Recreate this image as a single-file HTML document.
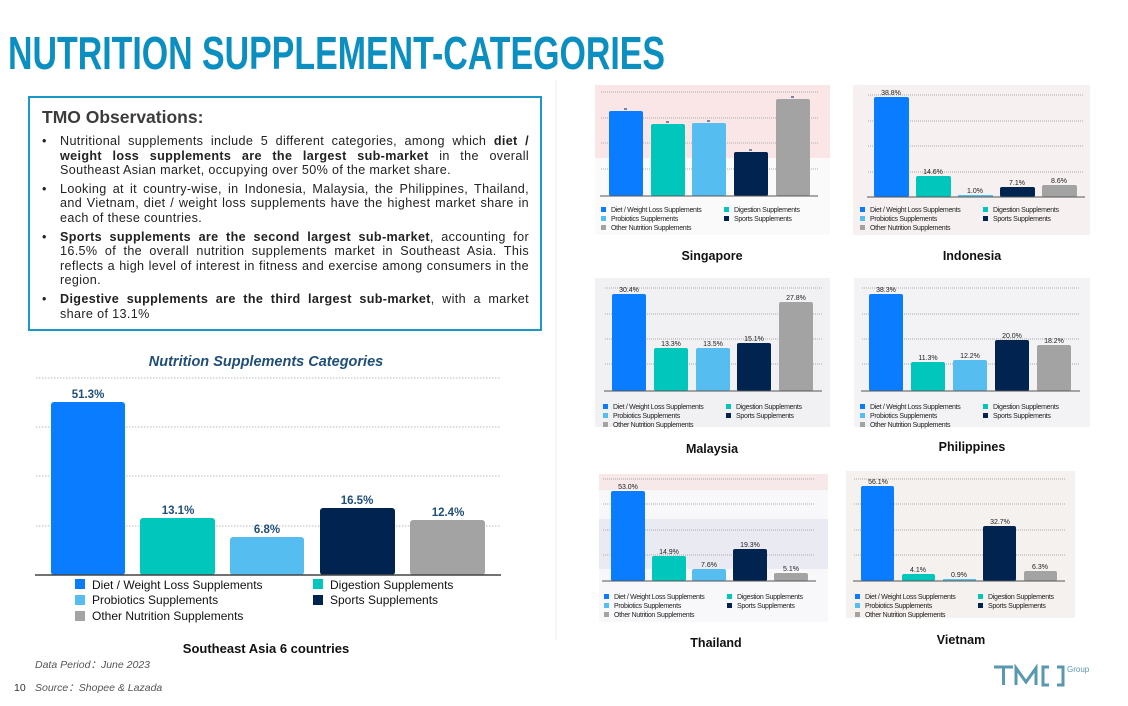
<!DOCTYPE html>
<html><head><meta charset="utf-8"><style>
body{margin:0;width:1128px;height:706px;background:#fff;position:relative;overflow:hidden;font-family:"Liberation Sans",sans-serif}
svg{position:absolute;left:0;top:0}
#box{position:absolute;left:28px;top:96px;width:510px;height:231px;border:2px solid #1b98c6;box-sizing:content-box}
#box h2{margin:0;position:absolute;left:12px;top:9px;font-size:17.5px;font-weight:bold;color:#3c3c3c}
#box ul{position:absolute;left:11px;top:36px;width:488px;margin:0;padding:0;list-style:none;font-size:12.6px;letter-spacing:0.35px;line-height:14.6px;color:#222;text-align:justify}
#box li{position:relative;padding-left:19px;margin-bottom:4px}
#box li:before{content:"•";position:absolute;left:1px;top:0}
</style></head><body>
<svg width="1128" height="706" viewBox="0 0 1128 706" font-family="Liberation Sans, sans-serif">
<text x="8" y="69" font-family="Liberation Sans Narrow, Liberation Sans, sans-serif" font-weight="bold" font-size="46" fill="#0b8fc1" textLength="657" lengthAdjust="spacingAndGlyphs">NUTRITION SUPPLEMENT-CATEGORIES</text>
<line x1="556" y1="80" x2="556" y2="640" stroke="#eee" stroke-width="1"/>

<text x="266" y="366" text-anchor="middle" font-size="14.5" font-weight="bold" font-style="italic" fill="#1f4e79">Nutrition Supplements Categories</text>
<g stroke="#bbb" stroke-dasharray="1.5,1.5"><line x1="36" y1="378" x2="500" y2="378"/><line x1="36" y1="427" x2="500" y2="427"/><line x1="36" y1="476" x2="500" y2="476"/><line x1="36" y1="526" x2="500" y2="526"/></g>
<rect x="51" y="402" width="74" height="173" rx="3" fill="#0a7cff"/>
<rect x="140" y="518" width="75" height="57" rx="3" fill="#00c6bb"/>
<rect x="230" y="537" width="74" height="38" rx="3" fill="#56bdf0"/>
<rect x="320" y="508" width="75" height="67" rx="3" fill="#00234f"/>
<rect x="410" y="520" width="75" height="55" rx="3" fill="#a3a3a3"/>
<line x1="35" y1="575" x2="501" y2="575" stroke="#444" stroke-width="1.5"/>
<g font-size="11.5" font-weight="bold" fill="#1f4e79" text-anchor="middle"><text x="88" y="398">51.3%</text><text x="178" y="514">13.1%</text><text x="267" y="533">6.8%</text><text x="357" y="504">16.5%</text><text x="448" y="516">12.4%</text></g>
<g font-size="12" fill="#111">
<rect x="75" y="579" width="10" height="10" fill="#0a7cff"/><text x="92" y="589">Diet / Weight Loss Supplements</text>
<rect x="313" y="579" width="10" height="10" fill="#00c6bb"/><text x="330" y="589">Digestion Supplements</text>
<rect x="75" y="595" width="10" height="10" fill="#56bdf0"/><text x="92" y="604">Probiotics Supplements</text>
<rect x="313" y="595" width="10" height="10" fill="#00234f"/><text x="330" y="604">Sports Supplements</text>
<rect x="75" y="611" width="10" height="10" fill="#a3a3a3"/><text x="92" y="620">Other Nutrition Supplements</text>
</g>
<text x="266" y="653" text-anchor="middle" font-size="13" font-weight="bold" fill="#111">Southeast Asia  6 countries</text>
<g font-size="10.5" font-style="italic" fill="#555"><text x="35" y="668">Data Period：June 2023</text><text x="35" y="691">Source：Shopee &amp; Lazada</text></g>
<text x="14" y="691" font-size="10.5" fill="#333">10</text>

<defs>
<g id="leg" font-size="7" fill="#222" letter-spacing="-0.3">
<rect x="0" y="0" width="5" height="5" fill="#0a7cff"/><text x="10" y="5">Diet / Weight Loss Supplements</text>
<rect x="123" y="0" width="5" height="5" fill="#00c6bb"/><text x="133" y="5">Digestion Supplements</text>
<rect x="0" y="9" width="5" height="5" fill="#56bdf0"/><text x="10" y="14">Probiotics Supplements</text>
<rect x="123" y="9" width="5" height="5" fill="#00234f"/><text x="133" y="14">Sports Supplements</text>
<rect x="0" y="18" width="5" height="5" fill="#a3a3a3"/><text x="10" y="23">Other Nutrition Supplements</text>
</g>
</defs>

<rect x="595" y="85" width="235" height="73" fill="#fbe6e7"/><rect x="595" y="158" width="235" height="77" fill="#fafafa"/>
<g stroke="#aaa" stroke-dasharray="1,1"><line x1="601" y1="92" x2="818" y2="92"/><line x1="601" y1="118" x2="818" y2="118"/><line x1="601" y1="143" x2="818" y2="143"/><line x1="601" y1="169" x2="818" y2="169"/></g>
<rect x="609" y="111" width="34" height="85" rx="2" fill="#0a7cff"/><rect x="651" y="124" width="34" height="72" rx="2" fill="#00c6bb"/><rect x="692" y="123" width="34" height="73" rx="2" fill="#56bdf0"/><rect x="734" y="152" width="34" height="44" rx="2" fill="#00234f"/><rect x="776" y="99" width="34" height="97" rx="2" fill="#a3a3a3"/>
<g stroke="#00234f"><line x1="624" y1="109" x2="627" y2="109"/><line x1="666" y1="122" x2="669" y2="122"/><line x1="707" y1="121" x2="710" y2="121"/><line x1="749" y1="150" x2="752" y2="150"/><line x1="791" y1="97" x2="794" y2="97"/></g>
<line x1="600" y1="196" x2="818" y2="196" stroke="#555"/>
<use href="#leg" x="601" y="207"/>
<text x="712" y="260" text-anchor="middle" font-size="12.5" font-weight="bold" fill="#111">Singapore</text>

<rect x="853" y="85" width="237" height="150" fill="#f6f0f0"/>
<g stroke="#aaa" stroke-dasharray="1,1"><line x1="868" y1="95" x2="1084" y2="95"/><line x1="868" y1="121" x2="1084" y2="121"/><line x1="868" y1="146" x2="1084" y2="146"/><line x1="868" y1="172" x2="1084" y2="172"/></g>
<rect x="874" y="97" width="35" height="100" rx="2" fill="#0a7cff"/><rect x="916" y="176" width="35" height="21" rx="2" fill="#00c6bb"/><rect x="958" y="195" width="35" height="2" fill="#56bdf0"/><rect x="1000" y="187" width="35" height="10" rx="2" fill="#00234f"/><rect x="1042" y="185" width="35" height="12" rx="2" fill="#a3a3a3"/>
<line x1="867" y1="197" x2="1085" y2="197" stroke="#555"/>
<g font-size="7" fill="#222" text-anchor="middle"><text x="891" y="95">38.8%</text><text x="933" y="174">14.6%</text><text x="975" y="193">1.0%</text><text x="1017" y="185">7.1%</text><text x="1059" y="183">8.6%</text></g>
<use href="#leg" x="860" y="207"/>
<text x="972" y="260" text-anchor="middle" font-size="12.5" font-weight="bold" fill="#111">Indonesia</text>

<rect x="595" y="278" width="235" height="149" fill="#f1f1f4"/>
<g stroke="#aaa" stroke-dasharray="1,1"><line x1="605" y1="288" x2="822" y2="288"/><line x1="605" y1="314" x2="822" y2="314"/><line x1="605" y1="339" x2="822" y2="339"/><line x1="605" y1="364" x2="822" y2="364"/></g>
<rect x="612" y="294" width="34" height="97" rx="2" fill="#0a7cff"/><rect x="654" y="348" width="34" height="43" rx="2" fill="#00c6bb"/><rect x="696" y="348" width="34" height="43" rx="2" fill="#56bdf0"/><rect x="737" y="343" width="34" height="48" rx="2" fill="#00234f"/><rect x="779" y="302" width="34" height="89" rx="2" fill="#a3a3a3"/>
<line x1="604" y1="391" x2="822" y2="391" stroke="#555"/>
<g font-size="7" fill="#222" text-anchor="middle"><text x="629" y="292">30.4%</text><text x="671" y="346">13.3%</text><text x="713" y="346">13.5%</text><text x="754" y="341">15.1%</text><text x="796" y="300">27.8%</text></g>
<use href="#leg" x="603" y="404"/>
<text x="712" y="453" text-anchor="middle" font-size="12.5" font-weight="bold" fill="#111">Malaysia</text>

<rect x="854" y="278" width="236" height="149" fill="#f3f2f5"/>
<g stroke="#aaa" stroke-dasharray="1,1"><line x1="862" y1="288" x2="1079" y2="288"/><line x1="862" y1="314" x2="1079" y2="314"/><line x1="862" y1="339" x2="1079" y2="339"/><line x1="862" y1="364" x2="1079" y2="364"/></g>
<rect x="869" y="294" width="34" height="97" rx="2" fill="#0a7cff"/><rect x="911" y="362" width="34" height="29" rx="2" fill="#00c6bb"/><rect x="953" y="360" width="34" height="31" rx="2" fill="#56bdf0"/><rect x="995" y="340" width="34" height="51" rx="2" fill="#00234f"/><rect x="1037" y="345" width="34" height="46" rx="2" fill="#a3a3a3"/>
<line x1="861" y1="391" x2="1080" y2="391" stroke="#555"/>
<g font-size="7" fill="#222" text-anchor="middle"><text x="886" y="292">38.3%</text><text x="928" y="360">11.3%</text><text x="970" y="358">12.2%</text><text x="1012" y="338">20.0%</text><text x="1054" y="343">18.2%</text></g>
<use href="#leg" x="860" y="404"/>
<text x="972" y="451" text-anchor="middle" font-size="12.5" font-weight="bold" fill="#111">Philippines</text>

<rect x="599" y="474" width="229" height="148" fill="#f8f8fa"/><rect x="599" y="474" width="229" height="16" fill="#f7e8ea"/><rect x="599" y="519" width="229" height="50" fill="#eaeaf2"/>
<g stroke="#aaa" stroke-dasharray="1,1"><line x1="603" y1="479" x2="815" y2="479"/><line x1="603" y1="504" x2="815" y2="504"/><line x1="603" y1="530" x2="815" y2="530"/><line x1="603" y1="555" x2="815" y2="555"/></g>
<rect x="611" y="491" width="34" height="90" rx="2" fill="#0a7cff"/><rect x="652" y="556" width="34" height="25" rx="2" fill="#00c6bb"/><rect x="692" y="569" width="34" height="12" rx="2" fill="#56bdf0"/><rect x="733" y="549" width="34" height="32" rx="2" fill="#00234f"/><rect x="774" y="573" width="34" height="8" rx="2" fill="#a3a3a3"/>
<line x1="602" y1="581" x2="816" y2="581" stroke="#555"/>
<g font-size="7" fill="#222" text-anchor="middle"><text x="628" y="489">53.0%</text><text x="669" y="554">14.9%</text><text x="709" y="567">7.6%</text><text x="750" y="547">19.3%</text><text x="791" y="571">5.1%</text></g>
<use href="#leg" x="604" y="594"/>
<text x="716" y="647" text-anchor="middle" font-size="12.5" font-weight="bold" fill="#111">Thailand</text>

<rect x="846" y="471" width="229" height="147" fill="#f5f1ef"/>
<g stroke="#aaa" stroke-dasharray="1,1"><line x1="854" y1="479" x2="1065" y2="479"/><line x1="854" y1="504" x2="1065" y2="504"/><line x1="854" y1="530" x2="1065" y2="530"/><line x1="854" y1="555" x2="1065" y2="555"/></g>
<rect x="861" y="486" width="33" height="95" rx="2" fill="#0a7cff"/><rect x="902" y="574" width="33" height="7" rx="2" fill="#00c6bb"/><rect x="943" y="579" width="33" height="2" fill="#56bdf0"/><rect x="983" y="526" width="33" height="55" rx="2" fill="#00234f"/><rect x="1024" y="571" width="33" height="10" rx="2" fill="#a3a3a3"/>
<line x1="853" y1="581" x2="1065" y2="581" stroke="#555"/>
<g font-size="7" fill="#222" text-anchor="middle"><text x="878" y="484">56.1%</text><text x="918" y="572">4.1%</text><text x="959" y="577">0.9%</text><text x="1000" y="524">32.7%</text><text x="1040" y="569">6.3%</text></g>
<use href="#leg" x="855" y="594"/>
<text x="961" y="644" text-anchor="middle" font-size="12.5" font-weight="bold" fill="#111">Vietnam</text>

<g fill="none" stroke="#5a97b0" stroke-width="3">
<path d="M994 667 H1013 M1003.5 667 V685"/>
<path d="M1016 685 V668 L1026 682 L1036 668 V685"/>
<path d="M1049 667 H1043 V685 H1049"/>
<path d="M1057 667 H1063 V685 H1057"/>
</g>
<text x="1067" y="672" font-size="8" fill="#5a97b0">Group</text>
</svg>
<div id="box"><h2>TMO Observations:</h2>
<ul>
<li>Nutritional supplements include 5 different categories, among which <b>diet / weight loss supplements are the largest sub-market</b> in the overall Southeast Asian market, occupying over 50% of the market share.</li>
<li>Looking at it country-wise, in Indonesia, Malaysia, the Philippines, Thailand, and Vietnam, diet / weight loss supplements have the highest market share in each of these countries.</li>
<li><b>Sports supplements are the second largest sub-market</b>, accounting for 16.5% of the overall nutrition supplements market in Southeast Asia. This reflects a high level of interest in fitness and exercise among consumers in the region.</li>
<li><b>Digestive supplements are the third largest sub-market</b>, with a market share of 13.1%</li>
</ul></div>
</body></html>
